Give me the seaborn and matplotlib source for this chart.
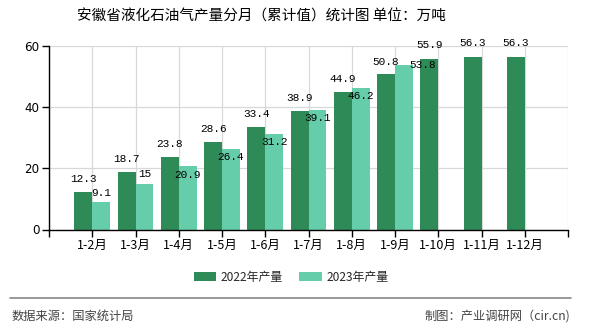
import numpy as np
import pandas as pd
import matplotlib
matplotlib.use("Agg")
import matplotlib.pyplot as plt
import seaborn as sns
from matplotlib.lines import Line2D
from matplotlib.patches import Patch

categories = ["1-2月", "1-3月", "1-4月", "1-5月", "1-6月", "1-7月", "1-8月", "1-9月", "1-10月", "1-11月", "1-12月"]
values_2022 = [12.3, 18.7, 23.8, 28.6, 33.4, 38.9, 44.9, 50.8, 55.9, 56.3, 56.3]
values_2023 = [9.1, 15, 20.9, 26.4, 31.2, 39.1, 46.2, 53.8, np.nan, np.nan, np.nan]
series_names = ["2022年产量", "2023年产量"]
yticks = [0, 20, 40, 60]

title = "安徽省液化石油气产量分月（累计值）统计图 单位：万吨"
source_left = "数据来源：国家统计局"
source_right = "制图：产业调研网（cir.cn)"

# label offsets in pixels (style only)
off_2022 = [13, 13, 13, 13, 13, 13, 13, 12, 14, 14, 14]
off_2023 = [(0, 9), (0, 10), (0, -9), (0, -8), (0, -8), (0, -8), (0, -8), (19, 0)]

colors = ["#2e8b57", "#66cdaa"]

sns.set_theme(style="white")
plt.rcParams["font.family"] = ["Noto Sans CJK SC", "DejaVu Sans"]

df = pd.DataFrame({
    "cat": categories * 2,
    "val": values_2022 + values_2023,
    "series": [series_names[0]] * len(categories) + [series_names[1]] * len(categories),
})

fig = plt.figure(figsize=(5.9, 3.3), dpi=100)
ax = fig.add_axes([49 / 590, 1 - 229.5 / 330, (568 - 49) / 590, (229.5 - 46) / 330])

sns.barplot(data=df, x="cat", y="val", hue="series", order=categories,
            hue_order=series_names, palette=colors, width=0.83, ax=ax,
            legend=False, saturation=1, edgecolor="none", linewidth=0)

ax.set_xlim(-1, 11)
ax.set_ylim(0, 60)
ax.set_yticks(yticks)
ax.set_xticks(list(range(-1, 12)))
ax.set_xticklabels([""] + categories + [""], fontsize=9)
ax.set_yticklabels([str(v) for v in yticks], fontsize=8.6, family=["DejaVu Sans"])
ax.set_xlabel("")
ax.set_ylabel("")
ax.grid(True, color="#d8d8d8", linewidth=0.9)
ax.set_axisbelow(True)
for s in ["top", "right"]:
    ax.spines[s].set_visible(False)
for s in ["left", "bottom"]:
    ax.spines[s].set_color("black")
    ax.spines[s].set_linewidth(1)
ax.tick_params(axis="both", which="both", length=5, width=1, color="black", pad=2,
               bottom=True, left=True, labelcolor="black")

# data labels
bars_2022 = ax.containers[0]
bars_2023 = ax.containers[1]
for rect, v, dy in zip(bars_2022, values_2022, off_2022):
    cx = rect.get_x() + rect.get_width() / 2
    ax.annotate(f"{v:g}", (cx, v), xytext=(0, dy), textcoords="offset pixels",
                ha="center", va="center", fontsize=8, family=["Liberation Mono"], color="black")
for rect, v, (dx, dy) in zip(bars_2023, values_2023, off_2023):
    if np.isnan(v):
        continue
    cx = rect.get_x() + rect.get_width() / 2
    ax.annotate(f"{v:g}", (cx, v), xytext=(dx, dy), textcoords="offset pixels",
                ha="center", va="center", fontsize=8, family=["Liberation Mono"], color="black")

fig.text(261 / 590, 1 - 17 / 330, title, ha="center", va="center", fontsize=10.5, color="black")

handles = [Patch(facecolor=c, edgecolor="none") for c in colors]
fig.legend(handles, series_names, loc="center", bbox_to_anchor=(291 / 590, 1 - 277 / 330),
           ncol=2, frameon=False, fontsize=8.6, handlelength=1.9, handleheight=0.8,
           handletextpad=0.35, columnspacing=1.4)

fig.add_artist(Line2D([10 / 590, 571 / 590], [1 - 298 / 330] * 2, color="#888888", linewidth=1.2))
fig.text(12 / 590, 1 - 316 / 330, source_left, ha="left", va="center", fontsize=8.8, color="#444444")
fig.text(570 / 590, 1 - 316 / 330, source_right, ha="right", va="center", fontsize=8.8, color="#444444")

fig.savefig("out.png", dpi=100)
